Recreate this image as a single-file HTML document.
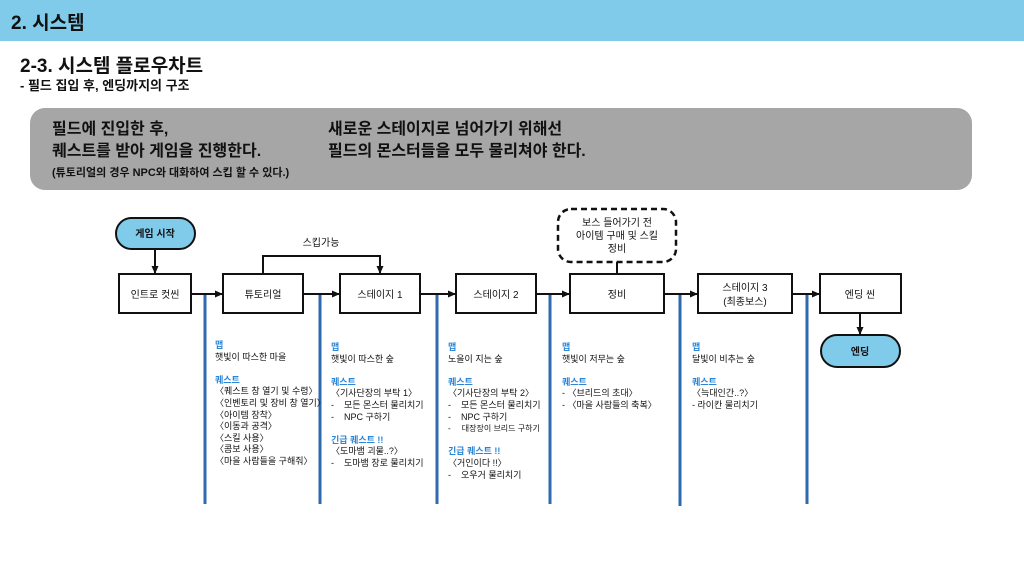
<!DOCTYPE html>
<html><head><meta charset="utf-8"><style>
body{margin:0;width:1024px;height:576px;background:#fff;overflow:hidden;position:relative;font-family:"Liberation Sans","Noto Sans CJK KR",sans-serif;color:#111}
.a{position:absolute;white-space:nowrap}
</style></head><body>
<div class="a" style="left:0;top:0;width:1024px;height:41px;background:#80caea"></div>
<div class="a" style="left:11px;top:8px;font-size:19px;font-weight:bold">2. 시스템</div>
<div class="a" style="left:20px;top:51px;font-size:19px;font-weight:bold">2-3. 시스템 플로우차트</div>
<div class="a" style="left:20px;top:75px;font-size:13px;font-weight:bold">- 필드 집입 후, 엔딩까지의 구조</div>
<div class="a" style="left:30px;top:108px;width:942px;height:82px;background:#a6a6a6;border-radius:15px"></div>
<div class="a" style="left:52px;top:119px;font-size:16px;font-weight:bold;line-height:22px">필드에 진입한 후,<br>퀘스트를 받아 게임을 진행한다.</div>
<div class="a" style="left:52px;top:164px;font-size:11px;font-weight:bold">(튜토리얼의 경우 NPC와 대화하여 스킵 할 수 있다.)</div>
<div class="a" style="left:328px;top:119px;font-size:16px;font-weight:bold;line-height:22px">새로운 스테이지로 넘어가기 위해선<br>필드의 몬스터들을 모두 물리쳐야 한다.</div>

<svg class="a" style="left:0;top:0" width="1024" height="576">
<defs><marker id="ar" markerWidth="8" markerHeight="8" refX="7" refY="4" orient="auto" markerUnits="userSpaceOnUse"><path d="M0,0.5 L8,4 L0,7.5z" fill="#111"/></marker></defs>
<g stroke="#2e6aad" stroke-width="3">
<line x1="205" y1="294" x2="205" y2="504"/><line x1="320" y1="294" x2="320" y2="504"/><line x1="437" y1="294" x2="437" y2="504"/><line x1="550" y1="294" x2="550" y2="504"/><line x1="680" y1="294" x2="680" y2="506"/><line x1="807" y1="294" x2="807" y2="504"/>
</g>
<g stroke="#111" stroke-width="2" fill="none">
<rect x="116" y="218" width="79" height="31" rx="15.5" fill="#80caea"/>
<line x1="155" y1="249" x2="155" y2="273" marker-end="url(#ar)"/>
<rect x="119" y="274" width="72" height="39" fill="#fff"/>
<rect x="223" y="274" width="80" height="39" fill="#fff"/>
<rect x="340" y="274" width="80" height="39" fill="#fff"/>
<rect x="456" y="274" width="80" height="39" fill="#fff"/>
<rect x="570" y="274" width="94" height="39" fill="#fff"/>
<rect x="698" y="274" width="94" height="39" fill="#fff"/>
<rect x="820" y="274" width="81" height="39" fill="#fff"/>
<line x1="191" y1="294" x2="222" y2="294" marker-end="url(#ar)"/>
<line x1="303" y1="294" x2="339" y2="294" marker-end="url(#ar)"/>
<line x1="420" y1="294" x2="455" y2="294" marker-end="url(#ar)"/>
<line x1="536" y1="294" x2="569" y2="294" marker-end="url(#ar)"/>
<line x1="664" y1="294" x2="697" y2="294" marker-end="url(#ar)"/>
<line x1="792" y1="294" x2="819" y2="294" marker-end="url(#ar)"/>
<polyline points="263,274 263,256 380,256 380,273" marker-end="url(#ar)"/>
<rect x="558" y="209" width="118" height="53" rx="13" stroke-width="2.5" stroke-dasharray="6,4" fill="#fff"/>
<line x1="617" y1="262" x2="617" y2="274"/>
<line x1="860" y1="313" x2="860" y2="334" marker-end="url(#ar)"/>
<rect x="821" y="335" width="79" height="32" rx="16" fill="#80caea"/>
</g>
<g font-size="10" text-anchor="middle" fill="#111">
<text x="155" y="237" font-weight="bold">게임 시작</text>
<text x="155" y="298">인트로 컷씬</text>
<text x="263" y="298">튜토리얼</text>
<text x="380" y="298">스테이지 1</text>
<text x="496" y="298">스테이지 2</text>
<text x="617" y="298">정비</text>
<text x="745" y="291">스테이지 3</text>
<text x="745" y="305">(최종보스)</text>
<text x="860" y="298">엔딩 씬</text>
<text x="860" y="355" font-weight="bold">엔딩</text>
<text x="321" y="246">스킵가능</text>
<text x="617" y="226">보스 들어가기 전</text>
<text x="617" y="239">아이템 구매 및 스킬</text>
<text x="617" y="252">정비</text>
</g>
</svg>
<style>.c{position:absolute;font-size:9px;line-height:11.6px;white-space:nowrap}.b{color:#2a86d6;font-weight:bold}</style>
<div class="c" style="left:215px;top:340px"><span class="b">맵</span><br>햇빛이 따스한 마을<br><br><span class="b">퀘스트</span><br>〈퀘스트 창 열기 및 수령〉<br>〈인벤토리 및 장비 창 열기〉<br>〈아이템 장착〉<br>〈이동과 공격〉<br>〈스킬 사용〉<br>〈콤보 사용〉<br>〈마을 사람들을 구해줘〉</div>
<div class="c" style="left:331px;top:342px"><span class="b">맵</span><br>햇빛이 따스한 숲<br><br><span class="b">퀘스트</span><br>〈기사단장의 부탁 1〉<br>-&nbsp;&nbsp;&nbsp;&nbsp;모든 몬스터 물리치기<br>-&nbsp;&nbsp;&nbsp;&nbsp;NPC 구하기<br><br><span class="b">긴급 퀘스트 !!</span><br>〈도마뱀 괴물..?〉<br>-&nbsp;&nbsp;&nbsp;&nbsp;도마뱀 장로 물리치기</div>
<div class="c" style="left:448px;top:342px"><span class="b">맵</span><br>노을이 지는 숲<br><br><span class="b">퀘스트</span><br>〈기사단장의 부탁 2〉<br>-&nbsp;&nbsp;&nbsp;&nbsp;모든 몬스터 물리치기<br>-&nbsp;&nbsp;&nbsp;&nbsp;NPC 구하기<br><span style="font-size:8px">-&nbsp;&nbsp;&nbsp;&nbsp;&nbsp;대장장이 브리드 구하기</span><br><br><span class="b">긴급 퀘스트 !!</span><br>〈거인이다 !!〉<br>-&nbsp;&nbsp;&nbsp;&nbsp;오우거 물리치기</div>
<div class="c" style="left:562px;top:342px"><span class="b">맵</span><br>햇빛이 저무는 숲<br><br><span class="b">퀘스트</span><br>- 〈브리드의 초대〉<br>- 〈마을 사람들의 축복〉</div>
<div class="c" style="left:692px;top:342px"><span class="b">맵</span><br>달빛이 비추는 숲<br><br><span class="b">퀘스트</span><br>〈늑대인간..?〉<br>- 라이칸 물리치기</div>
</body></html>
